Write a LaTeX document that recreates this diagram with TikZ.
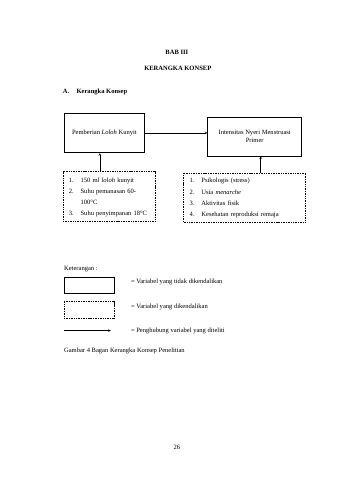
\documentclass[tikz,border=0pt]{standalone}
\usepackage{fontspec}
\setmainfont{Liberation Serif}
\usetikzlibrary{positioning}
\tikzset{
  varbox/.style={draw, rectangle, line width=1.1pt, align=center},
  listbox/.style={draw, rectangle, line width=1.1pt, dash pattern=on 1.8pt off 1.2pt, inner xsep=0.37cm, align=left},
  keytext/.style={anchor=west, inner sep=0pt}
}
\newcommand{\itemlist}[1]{{\renewcommand{\arraystretch}{1.5}\begin{tabular}{@{}l@{\hspace{0.42cm}}l@{}}#1\end{tabular}}}
\begin{document}
\begin{tikzpicture}[>=stealth, font=\fontsize{11.5}{13}\selectfont]
\useasboundingbox (0,0) rectangle (21,-29.7);
\node[font=\bfseries\fontsize{11.5}{13}\selectfont] (bab) at (10.94,-3.21) {BAB III};
\node[font=\bfseries\fontsize{11.5}{13}\selectfont] (judul) at (11.00,-4.26) {KERANGKA KONSEP};
\node[keytext, font=\bfseries\fontsize{11.5}{13}\selectfont] (subjudul) at (3.89,-5.69) {A.\hspace{0.45cm}Kerangka Konsep};
\node[varbox, minimum width=5.0cm, minimum height=2.47cm] (loloh) at (6.46,-8.22) {Pemberian \textit{Loloh} Kunyit};
\node[varbox, minimum width=5.81cm, minimum height=2.41cm] (nyeri) at (15.76,-8.44) {Intensitas Nyeri Menstruasi\\Primer};
\node[listbox, text width=4.95cm, minimum height=3.09cm] (kontrol) at (6.74,-12.17) {\itemlist{1. & 150 ml \textit{loloh} kunyit\\ 2. & Suhu pemanasan 60-\\ & 100°C\\ 3. & Suhu penyimpanan 18°C}};
\node[listbox, text width=6.80cm, minimum height=3.03cm] (faktor) at (15.14,-12.21) {\itemlist{1. & Psikologis (stress)\\ 2. & Usia \textit{menarche}\\ 3. & Aktivitas fisik\\ 4. & Kesehatan reproduksi remaja}};
\coordinate (kiri) at (6.18,0);
\coordinate (kanan) at (16.13,0);
\draw[->, line width=1.1pt] (loloh.east) -- (loloh.east -| nyeri.west);
\draw[->, line width=1.1pt] (kontrol.north -| kiri) -- (loloh.south -| kiri);
\draw[->, line width=1.1pt] (faktor.north -| kanan) -- (nyeri.south -| kanan);
% keterangan
\node[keytext] (ket) at (3.96,-16.62) {Keterangan :};
\node[varbox, minimum width=3.09cm, minimum height=0.99cm] (ketvar) at (5.50,-17.67) {};
\node[listbox, minimum width=3.09cm, minimum height=1.05cm] (ketlist) at (5.50,-19.19) {};
\coordinate (panahA) at (3.96,-20.46);
\coordinate (panahB) at (6.86,-20.46);
\draw[->, line width=1.1pt] (panahA) -- (panahB);
\node[keytext] (ket1) at (8.10,-17.43) {= Variabel yang tidak dikendalikan};
\node[keytext] (ket2) at (8.10,-18.97) {= Variabel yang dikendalikan};
\node[keytext] (ket3) at (8.10,-20.46) {= Penghubung variabel yang diteliti};
\node[keytext] (gambar) at (3.96,-21.69) {Gambar 4 Bagan Kerangka Konsep Penelitian};
\node (hal) at (10.94,-27.69) {26};
\end{tikzpicture}
\end{document}
